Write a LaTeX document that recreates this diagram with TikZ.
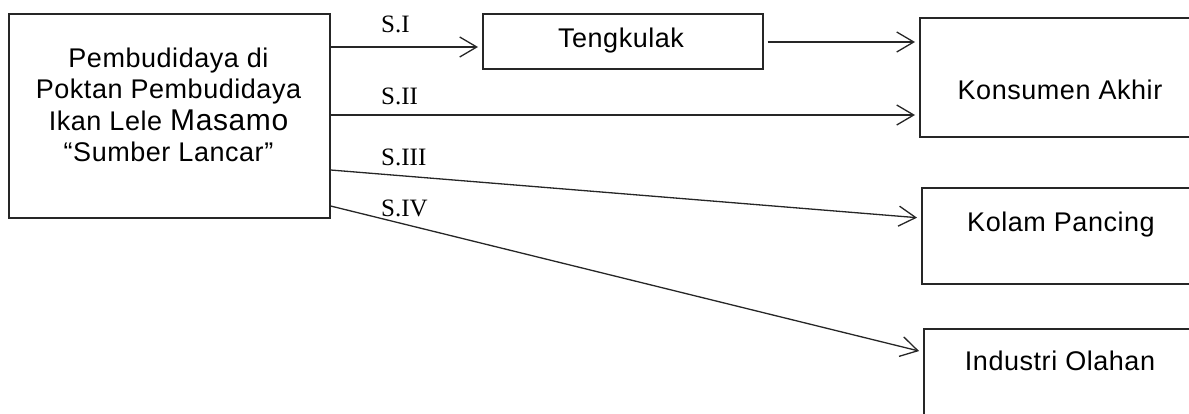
\documentclass[tikz,border=0pt]{standalone}
\usepackage{fontspec}
\setmainfont{Liberation Serif}
\newfontfamily\boxfont[LetterSpace=2]{Liberation Sans}
\usetikzlibrary{arrows.meta}
\begin{document}
\begin{tikzpicture}[x=1pt,y=1pt,
  box/.style={draw=black!85, line width=1.6pt, inner sep=0pt, anchor=north west},
  boxtext/.style={font=\boxfont\fontsize{27}{31.5}\selectfont, inner sep=0pt, anchor=base},
  flow/.style={draw=black!85, line width=1.3pt,
    -{Straight Barb[length=17pt,width=20pt,line width=1.3pt]}, shorten >=4pt},
  route/.style={font=\fontsize{25}{28}\selectfont, inner sep=0pt, anchor=west}
]
\clip (0,0) rectangle (1189,-414);

% boxes
\node[box, minimum width=321pt, minimum height=204pt] (farm) at (8,-13) {};
\node[box, minimum width=280pt, minimum height=55pt] (teng) at (482,-13) {};
\node[box, minimum width=340pt, minimum height=119pt] (kons) at (919,-17) {};
\node[box, minimum width=340pt, minimum height=96pt] (kolam) at (921,-187) {};
\node[box, minimum width=340pt, minimum height=150pt] (indus) at (923,-328) {};

% box texts
\node[boxtext, anchor=north, align=center] (farmtxt) at (168.5,-47.5)
  {Pembudidaya di\\Poktan Pembudidaya\\Ikan Lele {\fontsize{30}{31.5}\selectfont Masamo}\\“Sumber Lancar”};
\node[boxtext] (tengtxt) at (621,-48) {Tengkulak};
\node[boxtext] (konstxt) at (1060,-100) {Konsumen Akhir};
\node[boxtext] (kolamtxt) at (1061,-232) {Kolam Pancing};
\node[boxtext] (industxt) at (1060,-370) {Industri Olahan};

% heights of the connectors
\coordinate (y0) at (0,-42);
\coordinate (y1) at (0,-47);
\coordinate (y2) at (0,-115);
\coordinate (y3) at (0,-170);
\coordinate (y3e) at (0,-218);
\coordinate (y4) at (0,-206);
\coordinate (y4e) at (0,-352);

% connectors
\draw[flow] (farm.east |- y1) -- (teng.west |- y1);
\draw[flow, shorten <=4pt] (teng.east |- y0) -- (kons.west |- y0);
\draw[flow] (farm.east |- y2) -- (kons.west |- y2);
\draw[flow] (farm.east |- y3) -- (kolam.west |- y3e);
\draw[flow] (farm.east |- y4) -- (indus.west |- y4e);

% route labels
\node[route] (s1) at (381,-24) {S.I};
\node[route] (s2) at (381,-96) {S.II};
\node[route] (s3) at (381,-157) {S.III};
\node[route] (s4) at (381,-208) {S.IV};
\end{tikzpicture}
\end{document}
